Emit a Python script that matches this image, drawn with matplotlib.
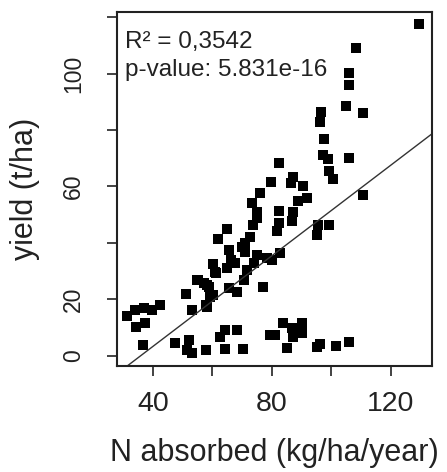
import matplotlib.pyplot as plt
import numpy as np

plt.rcParams['font.family'] = ['Liberation Sans', 'DejaVu Sans']

# N absorbed (kg/ha/year) and yield (t/ha)
n_absorbed = [
    129.4, 108.2, 106.0, 106.0, 104.9, 110.7, 96.5, 96.1, 97.5, 97.0, 98.9, 106.0,
    99.3, 100.6, 90.5, 82.4, 79.6, 87.0, 86.3, 91.7, 110.7, 76.0, 88.7,
    73.3, 75.0, 82.4, 87.2, 75.1, 86.6, 82.4, 73.5, 65.0, 81.6, 95.4, 99.3, 95.0,
    61.8, 72.6, 70.8, 69.8, 65.5, 75.0, 82.7, 78.3, 60.3, 79.9,
    51.2, 53.1, 57.9, 59.3, 54.8, 57.2, 58.7, 60.9, 66.2, 65.0, 67.7, 65.4, 68.2,
    70.5, 73.8, 76.9, 55.2, 58.0, 60.3, 58.3, 53.0, 61.2, 71.5, 70.9,
    31.2, 34.1, 36.9, 39.7, 42.5, 34.4, 37.4, 36.6,
    47.3, 52.0, 51.4, 53.1, 57.9, 62.4, 64.3, 68.2, 64.3, 70.3, 79.4, 81.0,
    83.8, 86.6, 90.0, 90.0, 87.2, 85.1, 95.0, 96.1, 101.7, 106.0,
]
yield_tha = [
    117.5, 109.2, 100.2, 96.1, 88.5, 86.2, 86.4, 82.9, 76.7, 71.1, 69.9, 70.2,
    65.4, 62.8, 60.2, 68.2, 61.7, 63.5, 61.1, 55.8, 57.0, 57.8, 55.0,
    54.2, 50.8, 51.3, 51.0, 48.7, 47.8, 47.2, 46.3, 44.8, 44.3, 46.3, 46.2, 42.8,
    41.5, 42.0, 39.8, 38.5, 37.3, 35.6, 36.4, 34.5, 32.5, 33.9,
    21.9, 16.0, 18.0, 20.9, 26.8, 25.9, 24.5, 29.8, 34.0, 31.0, 32.8, 23.9, 22.7,
    26.8, 32.8, 24.5, 26.8, 25.1, 21.5, 17.4, 16.2, 29.2, 30.4, 36.9,
    14.2, 16.2, 16.8, 16.2, 18.0, 10.1, 11.5, 3.8,
    4.4, 5.6, 2.0, 0.8, 2.0, 6.7, 8.9, 8.9, 2.3, 2.3, 7.3, 7.3,
    11.5, 9.7, 11.5, 7.9, 6.7, 2.6, 3.0, 4.1, 3.4, 4.7,
]

# fitted regression line (intercept, slope) as drawn in the reference
fit_intercept = -28.9
fit_slope = 0.804

r2_text = "R\u00b2 = 0,3542"
p_text = "p-value: 5.831e-16"

x_ticks = [40, 60, 80, 100, 120]
x_ticklabels = ["40", "", "80", "", "120"]
y_ticks = [0, 20, 40, 60, 80, 100, 120]
y_ticklabels = ["0", "20", "", "60", "", "100", ""]

fig = plt.figure(figsize=(4.47, 4.72), dpi=100)
ax = fig.add_axes([0.2617, 0.2246, 0.7047, 0.75])

ax.scatter(n_absorbed, yield_tha, marker='s', s=50, color='black', linewidths=0)
ax.axline((0, fit_intercept), slope=fit_slope, color='#333333', lw=1.0)

ax.set_xlim(27.9, 133.8)
ax.set_ylim(-3.7, 121.9)

ax.set_xticks(x_ticks)
ax.set_xticklabels(x_ticklabels)
ax.set_yticks(y_ticks)
ax.set_yticklabels(y_ticklabels, rotation=90, va='center')
ax.tick_params(axis='both', length=7, width=1.2, colors='#222222')
ax.tick_params(axis='x', labelsize=20.5, pad=11)
ax.tick_params(axis='y', labelsize=16.5, pad=16)

for s in ax.spines.values():
    s.set_linewidth(1.5)
    s.set_color('#222222')

ax.set_xlabel("N absorbed (kg/ha/year)", fontsize=22, labelpad=15, color='#222222')
ax.set_ylabel("yield (t/ha)", fontsize=22, color='#222222')
ax.yaxis.set_label_coords(-0.244, 0.5)

ax.text(0.025, 0.898, r2_text, transform=ax.transAxes, fontsize=17.5,
        va='baseline', color='#222222')
ax.text(0.025, 0.819, p_text, transform=ax.transAxes, fontsize=17.5,
        va='baseline', color='#222222')

plt.savefig("out.png", dpi=100)
plt.close(fig)
